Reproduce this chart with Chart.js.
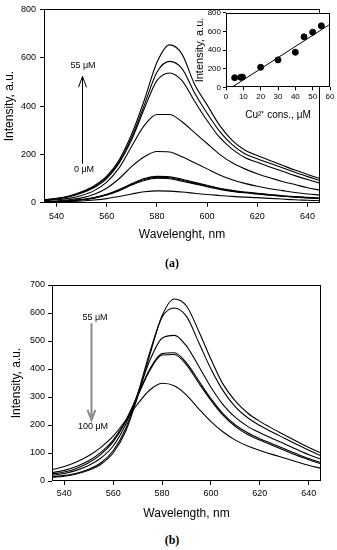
<!DOCTYPE html>
<html lang="en">
<head>
<meta charset="UTF-8">
<title>Fluorescence spectra with Cu2+</title>
<script src="https://cdn.jsdelivr.net/npm/chart.js"></script>
<style>
  body { margin: 0; background: #fff; }
  .page { position: relative; width: 337px; height: 550px; overflow: hidden; background: #fff;
          font-family: "Liberation Sans", Arial, sans-serif; }
  canvas { position: absolute; }
  .note { position: absolute; font-size: 9px; color: #000; white-space: nowrap; transform: translate(-50%, -50%); }
  .cap { position: absolute; font-family: "Liberation Serif", serif; font-weight: bold; font-size: 12px;
         transform: translate(-50%, -50%); }
</style>
</head>
<body>
<div class="page">
  <canvas id="chartA" width="337" height="250" style="left:0;top:0"></canvas>
  <canvas id="inset" width="149" height="125" style="left:188px;top:0"></canvas>
  <canvas id="chartB" width="337" height="255" style="left:0;top:270px"></canvas>

  <div class="note" style="left:83px;top:65px">55 μM</div>
  <div class="note" style="left:84px;top:169px">0 μM</div>
  <div class="cap" style="left:172px;top:263px">(a)</div>

  <div class="note" style="left:95px;top:317px">55 μM</div>
  <div class="note" style="left:93px;top:426px">100 μM</div>
  <div class="cap" style="left:172px;top:540px">(b)</div>
</div>

<script>
// wavelength grid (nm) and axis ticks
const wavelengths = [535, 540, 545, 550, 555, 560, 565, 570, 575, 580, 585, 590,
                     595, 600, 605, 610, 615, 620, 625, 630, 635, 640, 645];
const wlTicks = [540, 560, 580, 600, 620, 640];
const ticksA = [0, 200, 400, 600, 800];
const ticksB = [0, 100, 200, 300, 400, 500, 600, 700];

// (a) spectra, increasing Cu2+ (0 -> 55 uM)
const specA0  = [2, 3, 5, 7, 11, 17, 26, 36, 45, 49, 48, 44, 39, 34, 30, 26, 23, 21, 18, 15, 12, 10, 8];
const specA5  = [3, 5, 8, 12, 19, 32, 50, 73, 92, 101, 99, 89, 78, 66, 55, 47, 41, 36, 31, 27, 23, 20, 17];
const specA8  = [3, 5, 8, 12, 20, 33, 53, 76, 96, 105, 103, 93, 81, 69, 58, 49, 42, 37, 32, 28, 24, 21, 18];
const specA10 = [3, 5, 8, 13, 21, 35, 55, 79, 100, 109, 107, 97, 84, 72, 60, 51, 44, 39, 34, 29, 25, 22, 19];
const specA20 = [4, 7, 12, 20, 35, 60, 100, 150, 190, 212, 210, 190, 165, 140, 115, 95, 80, 68, 58, 50, 42, 36, 32];
const specA40 = [8, 12, 18, 30, 50, 85, 145, 235, 320, 365, 365, 335, 290, 245, 200, 165, 140, 120, 103, 88, 75, 62, 52];
const specA45 = [10, 16, 25, 40, 63, 100, 165, 262, 390, 505, 537, 505, 420, 340, 270, 222, 187, 167, 148, 130, 112, 96, 81];
const specA50 = [11, 17, 26, 42, 66, 105, 170, 272, 405, 540, 585, 555, 455, 370, 295, 240, 203, 182, 163, 145, 126, 108, 92];
const specA55 = [12, 18, 28, 45, 70, 110, 178, 285, 425, 580, 653, 615, 490, 405, 320, 258, 218, 195, 175, 155, 135, 117, 100];

// (b) spectra, 55 -> 100 uM
const specB1 = [13, 17, 25, 38, 60, 100, 175, 300, 450, 590, 650, 625, 535, 435, 345, 285, 243, 213, 188, 165, 142, 120, 100];
const specB2 = [15, 20, 28, 42, 65, 108, 185, 310, 460, 585, 618, 588, 495, 400, 322, 265, 226, 198, 175, 153, 131, 110, 90];
const specB3 = [20, 27, 38, 55, 82, 125, 200, 310, 430, 510, 520, 482, 410, 335, 272, 227, 195, 172, 152, 133, 113, 94, 78];
const specB4 = [25, 32, 45, 65, 95, 140, 210, 305, 400, 455, 458, 422, 358, 294, 240, 200, 172, 151, 133, 115, 97, 80, 66];
const specB5 = [30, 38, 52, 72, 102, 146, 214, 303, 395, 450, 452, 415, 350, 288, 234, 194, 166, 146, 128, 110, 92, 76, 61];
const specB6 = [40, 52, 68, 90, 120, 160, 215, 275, 325, 349, 340, 307, 258, 212, 175, 146, 125, 109, 95, 82, 69, 56, 45];

// inset: peak intensity vs Cu2+ concentration
const cuConc = [5, 8.5, 9.5, 20, 30, 40, 45, 50, 55];
const cuPeak = [103, 107, 110, 215, 294, 376, 541, 591, 659];
const fitConc = [3.3, 60];
const fitPeak = [0, 676];
const insetXTicks = [0, 10, 20, 30, 40, 50, 60];
const insetYTicks = [0, 200, 400, 600, 800];

Chart.defaults.font.family = '"Liberation Sans", Arial, sans-serif';
Chart.defaults.color = '#000';

// frame around the plot area (optionally filled white)
const boxPlugin = {
    id: 'box',
    beforeDraw(chart, args, opts) {
        if (!opts.fill) return;
        const a = chart.chartArea;
        chart.ctx.save();
        chart.ctx.fillStyle = '#fff';
        chart.ctx.fillRect(a.left, a.top, a.right - a.left, a.bottom - a.top);
        chart.ctx.restore();
    },
    afterDraw(chart) {
        const a = chart.chartArea, ctx = chart.ctx;
        const l = Math.round(a.left) + 0.5, t = Math.round(a.top) + 0.5;
        const r = Math.round(a.right) - 0.5, b = Math.round(a.bottom) - 0.5;
        ctx.save();
        ctx.strokeStyle = '#000';
        ctx.lineWidth = 1;
        ctx.strokeRect(l, t, r - l, b - t);
        ctx.restore();
    }
};

// concentration arrow, given in data units
const arrowPlugin = {
    id: 'arrow',
    afterDatasetsDraw(chart, args, o) {
        if (!o || o.x === undefined) return;
        const xs = chart.scales.x, ys = chart.scales.y, ctx = chart.ctx;
        const px = Math.round(xs.getPixelForValue(o.x)) + 0.5;
        const p0 = ys.getPixelForValue(o.from), p1 = ys.getPixelForValue(o.to);
        const dir = p0 > p1 ? 1 : -1;
        ctx.save();
        ctx.strokeStyle = o.color;
        ctx.lineWidth = o.width;
        ctx.beginPath();
        ctx.moveTo(px, p0);
        ctx.lineTo(px, p1);
        ctx.moveTo(px - 4, p1 + dir * o.head);
        ctx.lineTo(px, p1);
        ctx.lineTo(px + 4, p1 + dir * o.head);
        ctx.stroke();
        ctx.restore();
    }
};

function points(xs, ys) {
    return xs.map((x, i) => ({ x: x, y: ys[i] }));
}

function spectrumChart(id, series, yMax, yTicks, xTitle, g, arrow) {
    return new Chart(document.getElementById(id), {
        type: 'line',
        data: {
            datasets: series.map(s => ({
                data: points(wavelengths, s),
                borderColor: '#000',
                borderWidth: 1.1,
                pointRadius: 0,
                fill: false,
                cubicInterpolationMode: 'monotone'
            }))
        },
        options: {
            responsive: false,
            animation: false,
            layout: { padding: { top: g.top, right: g.right, left: 0, bottom: 0 } },
            scales: {
                x: {
                    type: 'linear', min: 535, max: 645,
                    afterBuildTicks: sc => { sc.ticks = wlTicks.map(v => ({ value: v })); },
                    afterFit: sc => { sc.height = g.xh; },
                    border: { display: false },
                    grid: { drawOnChartArea: false, tickLength: 4, color: '#000' },
                    ticks: { font: { size: 9 }, padding: g.xpad, maxRotation: 0 },
                    title: { display: true, text: xTitle, font: { size: 12 }, padding: { top: 0, bottom: g.xtb } }
                },
                y: {
                    min: 0, max: yMax,
                    afterBuildTicks: sc => { sc.ticks = yTicks.map(v => ({ value: v })); },
                    afterFit: sc => { sc.width = g.yw; },
                    border: { display: false },
                    grid: { drawOnChartArea: false, tickLength: 4, color: '#000' },
                    ticks: { font: { size: 9 }, padding: g.ypad },
                    title: { display: true, text: 'Intensity, a.u.', font: { size: 12 }, padding: { top: g.ytp, bottom: 0 } }
                }
            },
            plugins: {
                legend: { display: false },
                tooltip: { enabled: false },
                arrow: arrow,
                box: {}
            }
        },
        plugins: [boxPlugin, arrowPlugin]
    });
}

spectrumChart('chartA',
    [specA0, specA5, specA8, specA10, specA20, specA40, specA45, specA50, specA55],
    800, ticksA, 'Wavelenght, nm',
    { top: 7.5, right: 17, xh: 47.3, yw: 44, xpad: 4, ypad: 4, xtb: 7.8, ytp: 2 },
    { x: 550, from: 161, to: 523, color: '#000', width: 1, head: 11 });

spectrumChart('chartB',
    [specB1, specB2, specB3, specB4, specB5, specB6],
    700, ticksB, 'Wavelength, nm',
    { top: 15, right: 16, xh: 44, yw: 52, xpad: 3.5, ypad: 3, xtb: 4.5, ytp: 9.5 },
    { x: 551, from: 563, to: 218, color: '#8c8c8c', width: 2, head: 10 });

// inset calibration plot
new Chart(document.getElementById('inset'), {
    type: 'scatter',
    data: {
        datasets: [{
            data: points(cuConc, cuPeak),
            backgroundColor: '#000',
            borderColor: '#000',
            pointRadius: 3
        }, {
            type: 'line',
            data: points(fitConc, fitPeak),
            borderColor: '#000',
            borderWidth: 1,
            pointRadius: 0
        }]
    },
    options: {
        responsive: false,
        animation: false,
        layout: { padding: { top: 12.7, right: 7, left: 0, bottom: 0 } },
        scales: {
            x: {
                type: 'linear', min: 0, max: 60,
                afterBuildTicks: sc => { sc.ticks = insetXTicks.map(v => ({ value: v })); },
                afterFit: sc => { sc.height = 37.7; },
                border: { display: false },
                grid: { drawOnChartArea: false, tickLength: 3, color: '#000' },
                ticks: { font: { size: 8 }, padding: 2, maxRotation: 0, autoSkip: false },
                title: { display: true, text: 'Cu²⁺ cons., μM', font: { size: 10 }, padding: { top: 0, bottom: 4 } }
            },
            y: {
                min: 0, max: 800,
                afterBuildTicks: sc => { sc.ticks = insetYTicks.map(v => ({ value: v })); },
                afterFit: sc => { sc.width = 38; },
                border: { display: false },
                grid: { drawOnChartArea: false, tickLength: 3, color: '#000' },
                ticks: { font: { size: 8 }, padding: 2, autoSkip: false },
                title: { display: true, text: 'Intensity, a.u.', font: { size: 11 }, padding: { top: 5, bottom: 0 } }
            }
        },
        plugins: {
            legend: { display: false },
            tooltip: { enabled: false },
            box: { fill: true }
        }
    },
    plugins: [boxPlugin]
});
</script>
</body>
</html>
